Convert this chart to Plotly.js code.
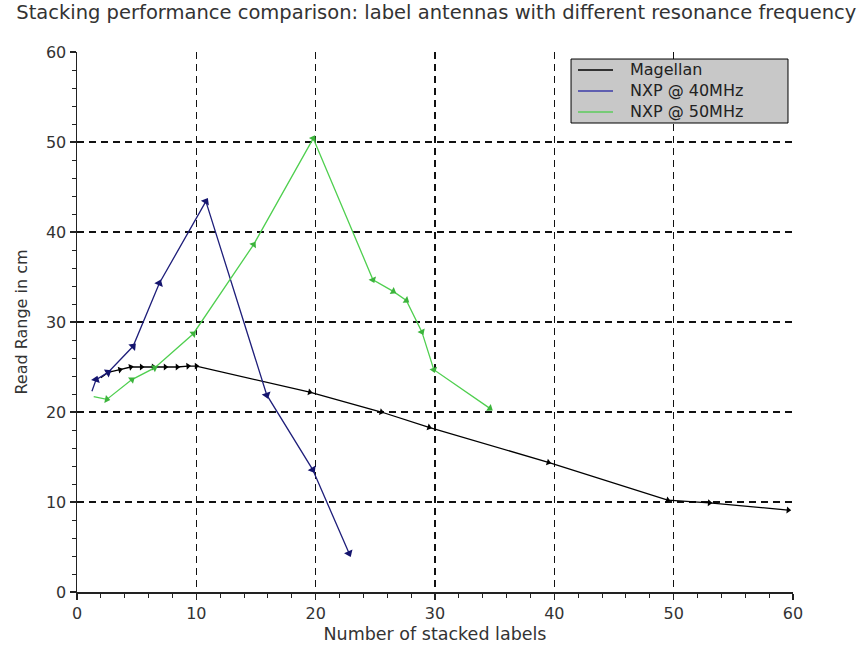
<!DOCTYPE html>
<html>
<head>
<meta charset="utf-8">
<script src="https://cdn.plot.ly/plotly-3.0.1.min.js"></script>
<style>html,body{margin:0;padding:0;background:#fff;}#chart{width:864px;height:651px;}</style>
</head>
<body>
<div id="chart"></div>
<script>
// Data
const seriesNames = ["Magellan", "NXP @ 40MHz", "NXP @ 50MHz"];
const seriesColors = ["#000000", "#1e1e7a", "#4fcf4f"];
const markerColors = ["#000000", "#14146e", "#3cb43c"];

const magellanX = [2.0, 2.6, 3.6, 4.5, 5.4, 6.4, 7.4, 8.4, 9.3, 10.0, 19.5, 25.5, 29.5, 39.5, 49.5, 53.0, 59.6];
const magellanY = [23.8, 24.4, 24.7, 25.0, 25.0, 25.0, 25.0, 25.0, 25.1, 25.1, 22.2, 20.0, 18.3, 14.4, 10.2, 9.9, 9.1];

const nxp40X = [1.25, 1.6, 2.6, 4.7, 6.9, 10.8, 15.9, 19.75, 22.8];
const nxp40Y = [22.3, 23.6, 24.4, 27.3, 34.3, 43.4, 21.9, 13.6, 4.3];

const nxp50X = [1.4, 2.5, 4.6, 6.5, 9.75, 14.8, 19.8, 24.8, 26.5, 27.6, 28.9, 29.9, 34.6];
const nxp50Y = [21.7, 21.4, 23.6, 24.9, 28.7, 38.6, 50.4, 34.7, 33.4, 32.4, 28.9, 24.7, 20.4];

const xTicks = [0, 10, 20, 30, 40, 50, 60];
const yTicks = [0, 10, 20, 30, 40, 50, 60];

const FONT = "DejaVu Sans, Liberation Sans, Arial, sans-serif";

const seriesX = [magellanX, nxp40X, nxp50X];
const seriesY = [magellanY, nxp40Y, nxp50Y];
const markerSizes = [6, 8, 7];

const traces = seriesNames.map((name, i) => ({
  x: seriesX[i], y: seriesY[i], name: name, type: "scatter", mode: "lines+markers",
  line: {color: seriesColors[i], width: 1.3},
  marker: {symbol: "triangle-up", size: markerSizes[i], color: markerColors[i], angleref: "previous"},
  showlegend: false
}));

const axisCommon = {
  range: [0, 60],
  tickmode: "array",
  showgrid: true,
  gridcolor: "#111111",
  gridwidth: 1.4,
  griddash: "7px,5px",
  zeroline: false,
  showline: true,
  linecolor: "#222222",
  linewidth: 1.5,
  ticks: "outside",
  ticklen: 6,
  tickwidth: 1.3,
  tickcolor: "#222222",
  tickfont: {family: FONT, size: 16, color: "#333333"},
  minor: {dtick: 2, ticks: "outside", ticklen: 4, tickwidth: 1, tickcolor: "#222222", showgrid: false},
  fixedrange: true
};

// Legend box (layout decoration; the texts are the series names)
const legX0 = 0.69, legX1 = 0.993, legY0 = 0.8685, legY1 = 0.987;
const legEntryY = [0.9667, 0.9278, 0.8889];
const legLineX0 = 0.6997, legLineX1 = 0.7486, legTextX = 0.770;
const legendLineColors = ["#000000", "#3c3ca8", "#5ccc5c"];

const shapes = [
  {type: "rect", xref: "paper", yref: "paper", x0: legX0, x1: legX1, y0: legY0, y1: legY1,
   fillcolor: "#c8c8c8", line: {color: "#000000", width: 1}, layer: "above"}
];
seriesNames.forEach((name, i) => {
  shapes.push({type: "line", xref: "paper", yref: "paper", x0: legLineX0, x1: legLineX1,
    y0: legEntryY[i], y1: legEntryY[i], line: {color: legendLineColors[i], width: 1.5}, layer: "above"});
});
const annotations = [
  {xref: "paper", yref: "paper", x: legTextX, y: legEntryY[1], xanchor: "left", yanchor: "middle", align: "left",
   text: seriesNames.join("<br>"), showarrow: false, font: {family: FONT, size: 16, color: "#222222"}}
];

const layout = {
  width: 864, height: 651,
  paper_bgcolor: "#ffffff", plot_bgcolor: "#ffffff",
  margin: {l: 77, r: 71, t: 52, b: 59},
  title: {
    text: "Stacking performance comparison: label antennas with different resonance frequency",
    font: {family: FONT, size: 19.5, color: "#333333"},
    xref: "container", x: 0.505, xanchor: "center",
    yref: "container", y: 0.981, yanchor: "middle"
  },
  xaxis: Object.assign({}, axisCommon, {
    tickvals: xTicks, ticktext: xTicks.map(String),
    title: {text: "Number of stacked labels", font: {family: FONT, size: 17.5, color: "#333333"}, standoff: 6}
  }),
  yaxis: Object.assign({}, axisCommon, {
    tickvals: yTicks, ticktext: yTicks.map(String),
    title: {text: "Read Range in cm", font: {family: FONT, size: 16, color: "#333333"}, standoff: 14}
  }),
  showlegend: false,
  shapes: shapes,
  annotations: annotations
};

Plotly.newPlot("chart", traces, layout, {displayModeBar: false, staticPlot: true});
</script>
</body>
</html>
